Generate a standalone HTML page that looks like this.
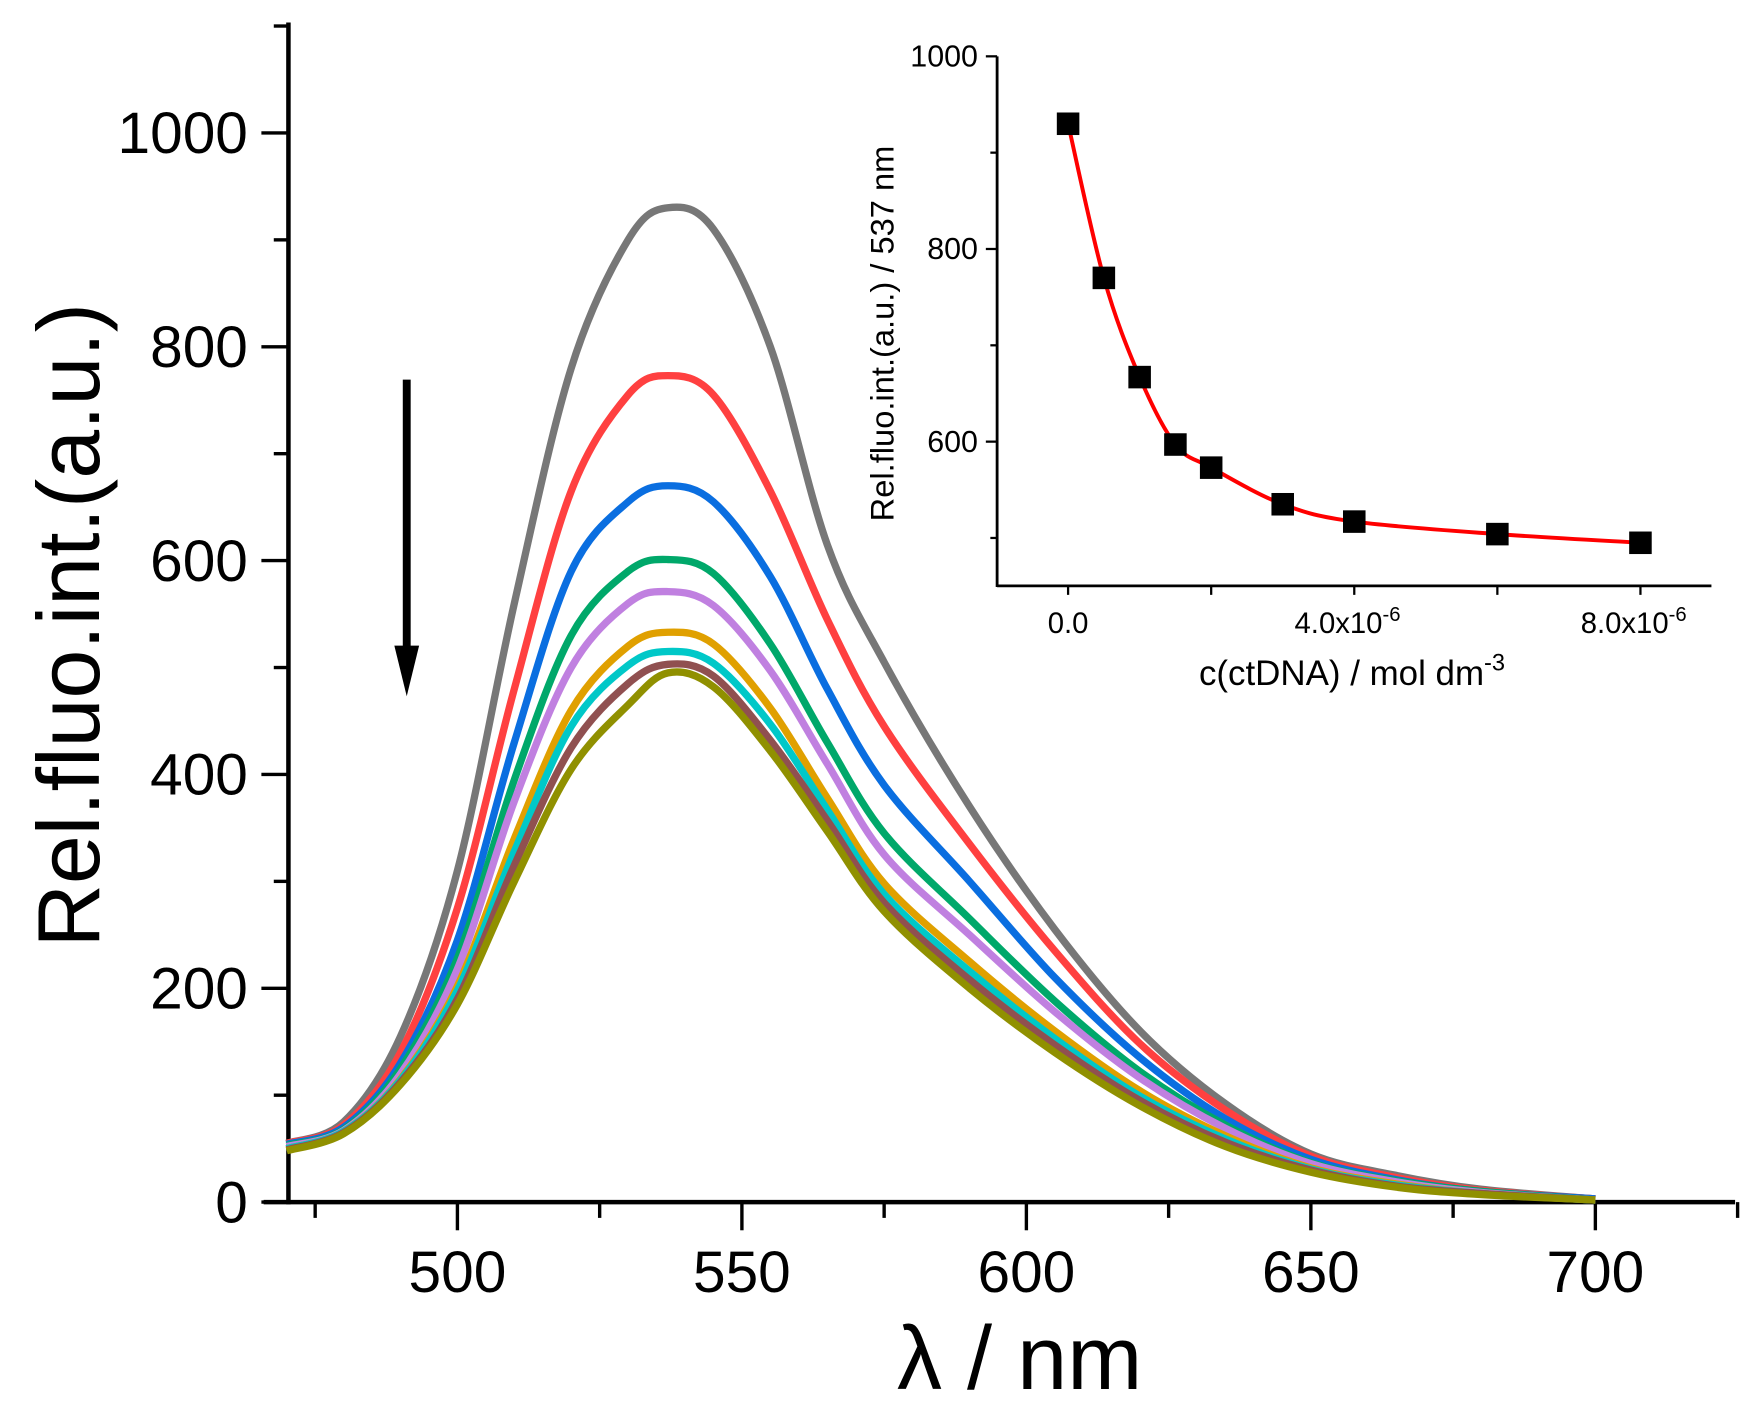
<!DOCTYPE html>
<html><head><meta charset="utf-8"><style>
html,body{margin:0;padding:0;background:#fff}
svg{display:block;font-family:"Liberation Sans",Arial,sans-serif}
</style></head><body>
<svg id="chart" width="1761" height="1411" viewBox="0 0 1563 1252.4" preserveAspectRatio="none" xmlns="http://www.w3.org/2000/svg">
<g id="main"></g>
<g id="inset"></g>
</svg>
<script>
// ---- main chart data ----
const wavelengths = [470,480,490,500,510,520,530,537,545,555,565,575,590,605,620,635,650,665,680,700];
const sGray   = [55,75,155,310,560,780,900,930,910,800,615,505,370,255,160,92,45,25,12,3];
const sRed    = [55,72,140,275,480,665,755,773,755,665,545,445,335,235,148,86,43,23,11,3];
const sBlue   = [54,70,130,245,430,590,655,670,655,585,480,390,300,210,135,78,40,21,10,3];
const sGreen  = [53,68,125,228,395,530,590,601,588,522,430,345,265,188,122,72,37,20,10,2];
const sViolet = [52,67,120,218,375,500,560,571,558,497,410,325,250,178,116,69,36,19,9,2];
const sOrange = [50,66,115,202,340,460,520,533,522,462,378,298,225,160,104,62,32,17,8,2];
const sCyan   = [50,66,114,198,328,445,502,515,504,447,367,288,216,153,99,59,31,16,8,2];
const sBrown  = [49,65,112,190,315,425,485,503,492,432,357,280,208,147,95,56,30,15,8,2];
const sOlive  = [48,64,110,185,300,405,465,495,482,422,347,272,200,140,90,52,28,14,7,2];
const xTicks = [500,550,600,650,700];
const yTicks = [0,200,400,600,800,1000];
// ---- inset data ----
const concX = [0,0.5,1,1.5,2,3,4,6,8]; // x 1e-6
const intensity = [930,770,667,597,573,535,517,504,495];
const insetXTickVals = [0,4,8];
const insetXTickLabels = ["0.0","4.0x10","8.0x10"];
const insetYTicks = [600,800,1000];

const NS="http://www.w3.org/2000/svg";
function el(tag,attrs,parent,text){const e=document.createElementNS(NS,tag);for(const k in attrs)e.setAttribute(k,attrs[k]);if(text!==undefined)e.textContent=text;parent.appendChild(e);return e;}
const main=document.getElementById('main');
const X=v=>256+(v-470.3)*5.05;
const Y=v=>1067-v*0.949;
let a=el('line',{x1:234,y1:1067,x2:1540,y2:1067,stroke:'#000','stroke-width':4},main);

a=el('line',{x1:256,y1:20,x2:256,y2:1069,stroke:'#000','stroke-width':4},main);

for(let v=475;v<=725;v+=25){const major=v%50===0;const t=el('line',{x1:X(v),y1:1067,x2:X(v),y2:1067+(major?25:14),stroke:'#000','stroke-width':3},main);
}
xTicks.forEach(v=>{const t=el('text',{x:X(v),y:1147,'font-size':52,'text-anchor':'middle'},main,String(v));
});
for(let v=0;v<=1100;v+=100){const major=v%200===0;const t=el('line',{x1:256,y1:Y(v),x2:256-(major?24:13),y2:Y(v),stroke:'#000','stroke-width':3},main);
}
yTicks.forEach(v=>{const t=el('text',{x:220,y:Y(v)+18,'font-size':52,'text-anchor':'end'},main,String(v));
});
let lb=el('text',{x:905,y:1233,'font-size':80,'text-anchor':'middle'},main,'λ / nm');

lb=el('text',{x:0,y:0,'font-size':78,'text-anchor':'middle',transform:'translate(88,555) rotate(-90)'},main,'Rel.fluo.int.(a.u.)');

const series=[[sGray,'#777777','gray'],[sRed,'#ff4040','red'],[sBlue,'#0a6ee0','blue'],[sGreen,'#00a86a','green'],[sViolet,'#c080e0','violet'],[sOrange,'#e0a000','orange'],[sCyan,'#00c8c8','cyan'],[sBrown,'#905050','brown'],[sOlive,'#909000','olive']];
function smooth(pts){let d='M'+pts[0][0]+','+pts[0][1];for(let i=0;i<pts.length-1;i++){const p0=pts[i-1]||pts[i],p1=pts[i],p2=pts[i+1],p3=pts[i+2]||p2;
const c1=[p1[0]+(p2[0]-p0[0])/6,p1[1]+(p2[1]-p0[1])/6],c2=[p2[0]-(p3[0]-p1[0])/6,p2[1]-(p3[1]-p1[1])/6];
d+=' C'+c1[0]+','+c1[1]+' '+c2[0]+','+c2[1]+' '+p2[0]+','+p2[1];}return d;}
series.forEach(s=>{const pts=wavelengths.map((w,i)=>[X(w),Y(s[0][i])]);
const p=el('path',{d:smooth(pts),fill:'none',stroke:s[1],'stroke-width':6.5,'stroke-linejoin':'round'},main);
});
a=el('line',{x1:361,y1:337,x2:361,y2:585,stroke:'#000','stroke-width':7},main);

a=el('polygon',{points:'350,573 372,573 361,618',fill:'#000'},main);


const ins=document.getElementById('inset');
const IX=v=>948+v*63.5;
const IY=v=>50+(1000-v)*0.855;
a=el('line',{x1:885,y1:520,x2:1519,y2:520,stroke:'#000','stroke-width':2.5},ins);

a=el('line',{x1:885,y1:50,x2:885,y2:521,stroke:'#000','stroke-width':2.5},ins);

for(let v=500;v<=1000;v+=100){const major=v%200===0;const t=el('line',{x1:885,y1:IY(v),x2:885-(major?10:6),y2:IY(v),stroke:'#000','stroke-width':2},ins);
}
insetYTicks.forEach(v=>{const t=el('text',{x:868,y:IY(v)+9,'font-size':27,'text-anchor':'end'},ins,String(v));
});
for(let v=0;v<=8;v+=2){const t=el('line',{x1:IX(v),y1:520,x2:IX(v),y2:528,stroke:'#000','stroke-width':2},ins);
}
insetXTickVals.forEach((v,i)=>{const t=el('text',{x:IX(v)+(i?-6:0),y:562,'font-size':26,'text-anchor':'middle'},ins,insetXTickLabels[i]);

if(i){el('tspan',{dy:-11,'font-size':18},t,'-6');}});
lb=el('text',{x:1200,y:608,'font-size':31,'text-anchor':'middle'},ins,'c(ctDNA) / mol dm');
el('tspan',{dy:-13,'font-size':21},lb,'-3');

lb=el('text',{x:0,y:0,'font-size':29,'text-anchor':'middle',transform:'translate(793,296) rotate(-90)'},ins,'Rel.fluo.int.(a.u.) / 537 nm');

const fitPts=concX.map((c,i)=>[IX(c),IY(intensity[i])]);
a=el('path',{d:smooth(fitPts),fill:'none',stroke:'#ff0000','stroke-width':3.5},ins);

concX.forEach((c,i)=>{const r=el('rect',{x:IX(c)-10,y:IY(intensity[i])-10,width:20,height:20,fill:'#000'},ins);
});
</script>
</body></html>
